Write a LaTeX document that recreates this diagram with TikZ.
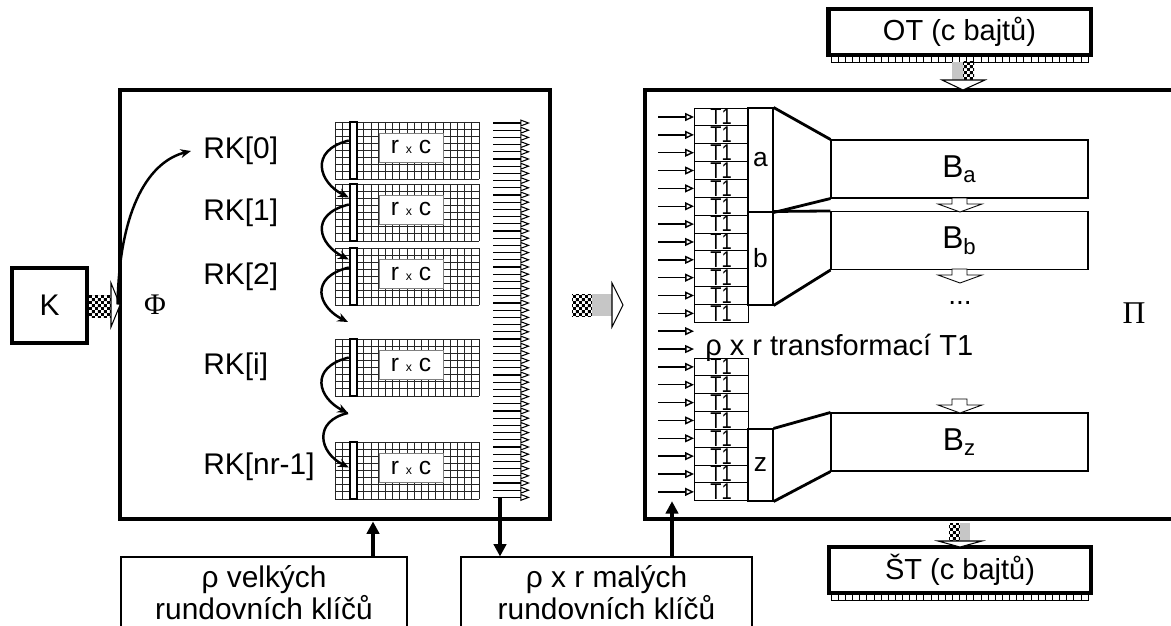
\documentclass[tikz,border=0pt]{standalone}
\usepackage{fontspec}
\setmainfont{Liberation Sans}
\newfontfamily\seriffont{Liberation Serif}
\usetikzlibrary{arrows.meta,positioning,calc,patterns}
\pgfdeclarepatternformonly{finechk}{\pgfpointorigin}{\pgfqpoint{3.4pt}{3.4pt}}{\pgfqpoint{3.4pt}{3.4pt}}{%
  \pgfpathrectangle{\pgfpointorigin}{\pgfqpoint{1.7pt}{1.7pt}}%
  \pgfpathrectangle{\pgfqpoint{1.7pt}{1.7pt}}{\pgfqpoint{1.7pt}{1.7pt}}%
  \pgfusepath{fill}}

\begin{document}
\begin{tikzpicture}[x=0.2mm, y=-0.2mm, >=Stealth,
  bigbox/.style={draw, line width=2.8pt, minimum width=#1, minimum height=8.58cm, inner sep=0pt},
  rkbar/.style={draw, fill=white, line width=1.4pt, minimum width=0.14cm, minimum height=1.14cm, inner sep=0pt},
  rxc/.style={draw=gray, fill=white, line width=0.5pt, minimum width=1.28cm, minimum height=0.58cm, inner sep=0pt, font=\fontsize{14}{14}\selectfont},
  rk/.style={anchor=west, inner sep=0pt, font=\fontsize{17}{17}\selectfont},
  gline/.style={line width=0.45pt, black!85},
  hop/.style={-{Stealth[length=6pt, width=5pt]}, line width=1.4pt},
  busarr/.style={-{Triangle[open, length=5.5pt, width=4pt]}, line width=0.6pt},
  inarr/.style={-{Triangle[open, length=5pt, width=4.5pt]}, line width=0.8pt},
  bigarr/.style={-{Triangle[length=7pt, width=7pt]}, line width=1.8pt},
  cell/.style={draw, line width=0.5pt, minimum width=1.08cm, minimum height=0.357cm, inner sep=0pt, font=\fontsize{13}{13}\selectfont},
  grp/.style={draw, line width=0.6pt, minimum width=0.5cm, minimum height=#1, inner sep=0pt, font=\fontsize{15}{15}\selectfont},
  bbox/.style={draw, line width=0.6pt, minimum width=5.14cm, minimum height=1.16cm, font=\fontsize{18}{18}\selectfont},
  fan/.style={line width=1.6pt},
  obox/.style={draw, line width=2.3pt, minimum width=5.24cm, minimum height=0.92cm, font=\fontsize{16.5}{16.5}\selectfont},
  lowbox/.style={draw, line width=0.6pt, minimum width=#1, minimum height=1.44cm, align=center, font=\fontsize{17}{16.5}\selectfont},
  chk/.style={pattern=finechk},
  head/.style={draw, fill=white, line width=0.6pt}]
\useasboundingbox (0,0) rectangle (1171,626);
\clip (0,0) rectangle (1171,626);
% key expansion
\node[draw, line width=2.5pt, minimum size=1.5cm, font=\fontsize{17}{17}\selectfont] (kbox) at (49.5,305.5) {K};
\node[bigbox=8.6cm] (lbox) at (335,304.5) {};
\fill[chk] (87,295) rectangle (111,317); \draw[head] (111,283) -- (120,305) -- (111,327) -- cycle;
\node[font=\fontsize{17}{17}\selectfont\seriffont] (phi) at (155,305) {Φ};
\foreach \g/\y in {0/122,1/184,2/248,3/339,4/442} {
  \foreach \i in {0,...,20} \draw[gline] (335+\i*7.2,\y) -- ++(0,57);
  \foreach \j in {0,...,8} \draw[gline] (335,\y+\j*7.125) -- ++(144,0);
  \node[rxc] (rxc\g) at (411,\y+25.5) {r {\fontsize{7}{7}\selectfont x} c};
  \node[rkbar] (bar\g) at (353.5,\y+28.5) {};
}
\foreach \n/\y/\l in {rk0/151/RK[0], rk1/213/RK[1], rk2/277/RK[2], rk3/367/RK[i], rk4/467/RK[nr-1]} \node[rk] (\n) at (203,\y) {\l};
\draw[hop] (lbox.west) .. controls +(2,-100) and +(-40,10) .. ($(rk0.west)+(-12,0)$);
\draw[hop] ($(bar0.west)+(0,-10)$) .. controls +(-40,10) and +(-30,-15) .. ($(bar1.west)+(0,-15)$);
\draw[hop] ($(bar1.west)+(0,-8)$) .. controls +(-40,10) and +(-30,-15) .. ($(bar2.west)+(0,-17)$);
\coordinate (gap) at (348,322); \coordinate (mid) at (348,413);
\draw[hop] ($(bar2.west)+(0,-9)$) .. controls +(-40,10) and +(-30,-15) .. (gap);
\draw[hop] ($(bar3.west)+(0,-10)$) .. controls +(-40,10) and +(-30,-15) .. (mid);
\draw[hop] (mid) .. controls +(-35,8) and +(-30,-15) .. ($(bar4.west)+(0,-3)$);
\foreach \k in {0,...,52} \draw[busarr] (493,123+\k*7.2) -- ++(37,0);
\coordinate (busend) at (500,497.4);
% round keys
\node[lowbox=5.72cm] (vk) at (264,593) {ρ velkých\\rundovních klíčů};
\node[lowbox=5.82cm] (mk) at (606.5,593) {ρ x r malých\\rundovních klíčů};
\draw[bigarr] (busend) -- (busend |- mk.north);
\coordinate (up1) at (373,557); \draw[bigarr] (up1) -- (up1 |- lbox.south);
\fill[chk] (572,294) rectangle (592,316); \fill[gray!45] (592,294) rectangle (612,316); \draw[head] (612,283) -- (623,305) -- (612,327) -- cycle;
% encryption
\node[bigbox=10.8cm] (rbox) at (915,304.5) {};
\foreach \k in {0,...,21} \draw[inarr] (658,117+\k*17.85) -- ++(36,0);
\foreach \k in {0,...,11,14,15,...,21} \node[cell] (t\k) at (721,117+\k*17.85) {\scalebox{.8}[1]{T1}};
\node[grp=2.08cm] (ga) at (760.5,160) {a};
\node[grp=1.86cm] (gb) at (760.5,258.5) {b};
\node[grp=1.44cm] (gz) at (760.5,465) {z};
\node[bbox] (ba) at (959.5,169) {B\textsubscript{a}};
\node[bbox] (bb) at (959.5,240.5) {B\textsubscript{b}};
\node[bbox] (bz) at (959.5,442) {B\textsubscript{z}};
\foreach \g/\b in {ga/ba, gb/bb, gz/bz} \draw[fan] (\g.north east) -- (\b.north west) (\g.south east) -- (\b.south west);
\foreach \y in {198,269,399} \draw[line width=0.5pt, fill=white] (952,\y) -- ++(0,6) -- ++(-14,0) -- ++(22,8) -- ++(22,-8) -- ++(-15,0) -- ++(0,-6) -- cycle;
\node[font=\fontsize{16}{16}\selectfont] (dots) at (960,303) {...};
\node[anchor=base west, inner sep=0pt, font=\fontsize{16.5}{16.5}\selectfont] (trn) at (705,355) {ρ x r transformací T1};
\node[font=\fontsize{18}{18}\selectfont\seriffont] (pi) at (1134,313) {Π};
\coordinate (up2) at (672,557); \draw[bigarr] (up2) -- (up2 |- t21.south);
% plain and cipher text
\node[obox] (ot) at (959.5,32) {OT (c bajtů)};
\node[obox] (st) at (960,570) {ŠT (c bajtů)};
\foreach \y in {55,593} \foreach \i in {0,...,35} \draw[line width=0.4pt] (831+\i*7.14,\y) rectangle ++(7.14,7);
\fill[gray!45] (952,62) rectangle (963,80); \fill[chk] (963,62) rectangle (974,80); \draw[head] (942,80) -- (963,90) -- (985,80) -- cycle;
\fill[chk] (949,523) rectangle (960,541); \fill[gray!45] (960,523) rectangle (970,541); \draw[head] (938,541) -- (960,547) -- (982,541) -- cycle;
\end{tikzpicture}
\end{document}
